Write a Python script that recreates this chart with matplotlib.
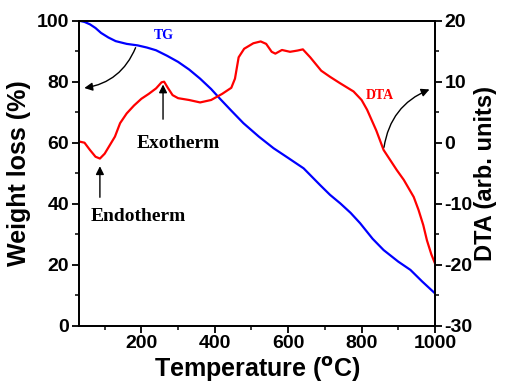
import numpy as np
import matplotlib
matplotlib.use("Agg")
import matplotlib.pyplot as plt
from matplotlib.ticker import MultipleLocator

# TG curve (weight loss %)
tg_temp = [30, 45, 60, 75, 90, 110, 130, 160, 190, 215, 240, 270, 300, 330, 360,
           390, 415, 445, 478, 520, 560, 600, 642, 687, 714, 742, 770, 796, 830,
           860, 900, 933, 965, 1000]
tg_wt = [100, 99.6, 98.8, 97.6, 96.0, 94.5, 93.3, 92.4, 91.9, 91.2, 90.3, 88.5,
         86.5, 84.0, 81.0, 77.6, 74.3, 70.5, 66.4, 62.0, 58.2, 55.0, 51.6, 46.1,
         42.9, 40.1, 37.0, 33.6, 28.5, 24.8, 21.0, 18.3, 14.5, 10.6]

# DTA curve (arb. units)
dta_temp = [30, 45, 60, 75, 87, 100, 115, 128, 142, 160, 180, 200, 220, 240, 255,
            262, 272, 285, 300, 330, 360, 390, 420, 445, 455, 465, 480, 505, 525,
            540, 555, 565, 583, 605, 625, 640, 660, 690, 714, 740, 778, 800, 815,
            840, 860, 896, 915, 942, 955, 968, 978, 990, 1000]
dta_val = [0.2, 0.0, -1.2, -2.3, -2.6, -1.8, -0.3, 1.0, 3.2, 4.8, 6.1, 7.2, 8.0,
           8.9, 9.9, 10.0, 9.0, 7.8, 7.3, 7.0, 6.6, 7.0, 8.0, 9.0, 10.5, 14.0,
           15.4, 16.3, 16.6, 16.2, 14.9, 14.6, 15.2, 14.9, 15.1, 15.3, 14.0, 11.8,
           10.8, 9.8, 8.4, 7.0, 5.4, 2.0, -1.2, -4.5, -6.1, -8.9, -11.0, -13.5,
           -16.0, -18.3, -19.8]

plt.rcParams['font.family'] = ['Liberation Sans', 'DejaVu Sans']
plt.rcParams['font.weight'] = 'bold'
plt.rcParams['axes.unicode_minus'] = False
plt.rcParams['mathtext.default'] = 'bf'

fig = plt.figure(figsize=(5.05, 3.89), dpi=100)
ax = fig.add_axes([0.1564, 0.1627, 0.705, 0.7841])
ax2 = ax.twinx()

ax.plot(tg_temp, tg_wt, color='#0000ff', lw=1.6)
ax2.plot(dta_temp, dta_val, color='#ff0000', lw=1.6)

ax.set_xlim(30, 1000)
ax.set_ylim(0, 100)
ax2.set_ylim(-30, 20)

ax.xaxis.set_major_locator(MultipleLocator(200))
ax.xaxis.set_minor_locator(MultipleLocator(100))
ax.yaxis.set_major_locator(MultipleLocator(20))
ax.yaxis.set_minor_locator(MultipleLocator(10))
ax2.yaxis.set_major_locator(MultipleLocator(10))
ax2.yaxis.set_minor_locator(MultipleLocator(5))

for a in (ax, ax2):
    for s in a.spines.values():
        s.set_linewidth(1.3)
    a.tick_params(which='major', length=5, width=1.3, labelsize=14, pad=2)
    a.tick_params(which='minor', length=3, width=1.1)

ax.set_xlabel(r'Temperature ($^{\rm o}$C)', fontsize=18, fontweight='bold', labelpad=2)
ax.set_ylabel('Weight loss (%)', fontsize=18, fontweight='bold', labelpad=4)
ax2.set_ylabel('DTA (arb. units)', fontsize=17, fontweight='bold', labelpad=1)

serif = ['Liberation Serif', 'DejaVu Serif']
ax.text(262, 95, 'TG', color='#0000ff', fontsize=10, fontweight='bold',
        family=serif, ha='center', va='center')
ax2.text(851, 7.7, 'DTA', color='#ff0000', fontsize=10, fontweight='bold',
         family=serif, ha='center', va='center')
ax2.text(300, -0.1, 'Exotherm', fontsize=14, fontweight='bold', family=serif,
         ha='center', va='center')
ax2.text(191, -12.1, 'Endotherm', fontsize=14, fontweight='bold', family=serif,
         ha='center', va='center')

arr = dict(arrowstyle='-|>', color='black', lw=1.0, mutation_scale=12)
ax2.annotate('', xy=(259, 10.0), xytext=(259, 3.4), arrowprops=arr)
ax2.annotate('', xy=(87, -3.4), xytext=(87, -9.4), arrowprops=arr)
ax.annotate('', xy=(37, 77.8), xytext=(187, 92),
            arrowprops=dict(arr, connectionstyle='arc3,rad=-0.3'))
ax2.annotate('', xy=(992, 8.9), xytext=(860, -1.2),
             arrowprops=dict(arr, connectionstyle='arc3,rad=-0.3'))

fig.savefig('out.png', dpi=100)
